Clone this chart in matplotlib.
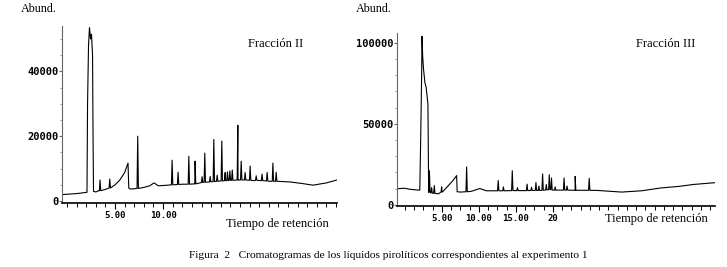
import matplotlib
matplotlib.use("Agg")
import matplotlib.pyplot as plt
from matplotlib.ticker import MultipleLocator, FixedLocator

# ---- Fracción II (left) ----
# broad trace: baseline, big solvent peak and the ramp before ~6.4 min
trace2_t = [-0.5, 1.0, 2.08, 2.14, 2.24, 2.34, 2.45, 2.55, 2.66, 2.71, 2.76, 3.0,
            3.3, 4.0, 4.6, 5.0, 5.5, 6.0, 6.35, 6.43, 6.6, 7.0, 8.0, 8.6, 9.06, 9.5,
            10.5, 12.0, 13.3, 15.0, 16.5, 17.8, 19.5, 21.0, 23.2, 24.5, 25.6, 27.0, 28.1]
trace2_y = [2000, 2300, 2700, 30000, 48000, 53500, 50000, 51500, 45000, 20000, 3000, 2800,
            3200, 3600, 4200, 5000, 6500, 8800, 11700, 4000, 3700, 3800, 4200, 4700, 5600, 4700,
            4900, 5200, 5300, 6000, 6400, 6500, 6300, 6100, 5900, 5400, 4900, 5600, 6500]
# sharp peaks: time, foot, top
peaks2_t = [3.44, 4.45, 7.36, 10.94, 11.56, 12.68, 13.33, 14.06, 14.34, 14.9, 15.28, 15.63,
            16.11, 16.46, 16.7, 16.95, 17.2, 17.78, 18.13, 18.54, 19.06, 19.69, 20.3, 20.83,
            21.43, 21.77]
peaks2_foot = [3200, 4000, 3900, 5000, 5100, 5200, 5300, 5700, 5800, 5900, 6000, 6100,
               6200, 6300, 6300, 6400, 6400, 6500, 6500, 6500, 6400, 6400, 6300, 6200,
               6100, 6100]
peaks2_top = [6500, 6800, 20000, 12600, 8900, 13800, 12300, 7500, 14800, 7600, 19000, 8000,
              18500, 8800, 9000, 9300, 9600, 23400, 12300, 8800, 10800, 7800, 8300, 8800,
              11700, 8900]

# ---- Fracción III (right) ----
trace3_t = [-1.1, -0.1, 0.7, 1.35, 2.0, 2.12, 2.25, 2.3, 2.39, 2.5, 2.7, 2.84, 2.97, 3.1,
            3.2, 3.5, 4.5, 5.0, 5.5, 6.0, 6.5, 6.98, 7.05, 7.5, 9.0, 10.1, 11.0,
            13.0, 16.0, 20.0, 23.0, 26.0, 29.3, 32.0, 34.5, 37.0, 39.0, 41.9]
trace3_y = [9800, 10200, 9500, 9200, 9000, 40000, 80000, 104000, 91500, 84000, 75000, 73000,
            68000, 62000, 7800, 7200, 6700, 8000, 10000, 12500, 15000, 18000, 8000,
            7800, 8300, 10000, 8600, 8600, 8700, 9000, 8900, 8800, 7800, 8600, 10300, 11300,
            12500, 13600]
peaks3_t = [3.3, 3.6, 3.96, 4.96, 8.33, 12.6, 13.3, 14.5, 15.2, 16.5, 17.1, 17.7, 18.1,
            18.6, 19.1, 19.5, 19.8, 20.3, 21.5, 21.9, 23.0, 24.9]
peaks3_foot = [7600, 7200, 7000, 7800, 8000, 8600, 8600, 8700, 8700, 8700, 8800, 8800, 8800,
               8900, 9100, 9300, 9200, 9000, 9000, 9000, 8900, 8900]
peaks3_top = [21000, 10500, 11800, 11000, 23300, 14900, 11000, 21000, 10500, 12700, 10800,
              13700, 11500, 19000, 12500, 18500, 16500, 11000, 16500, 11500, 17500, 16300]


def build_trace(tt, yy, pt, pf, ptop, w):
    pts = list(zip(tt, yy))
    for t, f, top in zip(pt, pf, ptop):
        pts += [(t - w, f), (t, top), (t + w, f)]
    pts.sort()
    return [p[0] for p in pts], [p[1] for p in pts]


W, H = 727, 267
fig = plt.figure(figsize=(W / 100, H / 100), dpi=100)
fig.patch.set_facecolor('white')

mono = dict(family='DejaVu Sans Mono', weight='bold')
serif = 'Liberation Serif'


def setup(ax, xlim, ylim, xmaj, xlabels, xminor, ymaj, ylabels, yminor):
    ax.set_xlim(*xlim)
    ax.set_ylim(*ylim)
    for s in ['top', 'right']:
        ax.spines[s].set_visible(False)
    ax.spines['left'].set_color('#666666')
    ax.spines['left'].set_linewidth(0.8)
    ax.spines['bottom'].set_linewidth(1.2)
    ax.xaxis.set_major_locator(FixedLocator(xmaj))
    ax.set_xticklabels(xlabels, fontsize=6.5, **mono)
    ax.xaxis.set_minor_locator(MultipleLocator(xminor))
    ax.yaxis.set_major_locator(FixedLocator(ymaj))
    ax.set_yticklabels(ylabels, fontsize=7.5, **mono)
    ax.yaxis.set_minor_locator(MultipleLocator(yminor))
    ax.tick_params(axis='x', which='major', length=4, width=0.8, pad=1.5)
    ax.tick_params(axis='x', which='minor', length=3, width=0.7)
    ax.tick_params(axis='y', which='major', length=2, width=0.8, pad=0.5, color='#666666')
    ax.tick_params(axis='y', which='minor', length=1.5, width=0.6, color='#888888')
    ax.set_facecolor('none')


ax1 = fig.add_axes([62 / W, 1 - 203 / H, 275 / W, 177 / H])
x2, y2 = build_trace(trace2_t, trace2_y, peaks2_t, peaks2_foot, peaks2_top, 0.07)
ax1.plot(x2, y2, color='black', lw=0.8)
setup(ax1, (-0.52, 28.1), (-600, 54000), [5, 10], ['5.00', '10.00'], 1,
      [0, 20000, 40000], ['0', '20000', '40000'], 5000)

ax2 = fig.add_axes([397 / W, 1 - 206 / H, 318 / W, 173 / H])
x3, y3 = build_trace(trace3_t, trace3_y, peaks3_t, peaks3_foot, peaks3_top, 0.09)
ax2.plot(x3, y3, color='black', lw=0.8)
setup(ax2, (-1.08, 41.9), (-800, 106000), [5, 10, 15, 20], ['5.00', '10.00', '15.00', '20'], 1.25,
      [0, 50000, 100000], ['0', '50000', '100000'], 10000)


def ftext(x, y, s, size, ha='center'):
    fig.text(x / W, 1 - y / H, s, fontsize=size, family=serif, ha=ha, va='center')


ftext(39, 9, 'Abund.', 8.7)
ftext(374, 9, 'Abund.', 8.7)
ftext(276, 44, 'Fracción II', 9)
ftext(666, 44, 'Fracción III', 9)
ftext(277, 224, 'Tiempo de retención', 9)
ftext(656, 219, 'Tiempo de retención', 9)
ftext(388, 255, 'Figura  2   Cromatogramas de los líquidos pirolíticos correspondientes al experimento 1', 8.2)

fig.savefig('out.png', dpi=100, facecolor='white')
